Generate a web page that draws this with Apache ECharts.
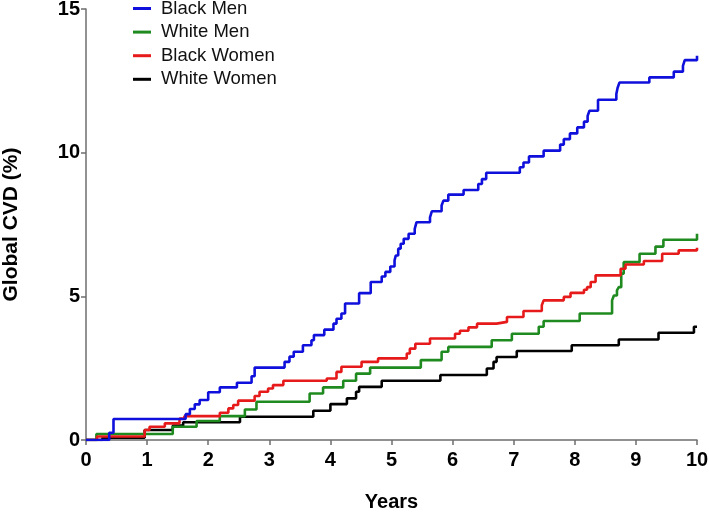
<!DOCTYPE html>
<html>
<head>
<meta charset="utf-8">
<script src="https://cdn.jsdelivr.net/npm/echarts@6/dist/echarts.min.js"></script>
<style>
html,body{margin:0;padding:0;background:#fff;}
#chart{width:709px;height:512px;}
</style>
</head>
<body>
<div id="chart"></div>
<script>
// Series names (legend order)
var seriesNames = ['Black Men', 'White Men', 'Black Women', 'White Women'];

// Black Men: event times (years) and cumulative incidence (%) from that time on
var blackMenT = [0, 0.38, 0.45, 1.63, 1.70, 1.78, 1.86, 2.00, 2.19, 2.47, 2.71, 2.76, 3.25, 3.33, 3.40, 3.55, 3.69, 3.73, 3.90, 4.05, 4.10, 4.18, 4.24, 4.47, 4.66, 4.84, 4.90, 4.98, 5.05, 5.07, 5.11, 5.15, 5.20, 5.28, 5.38, 5.41, 5.63, 5.66, 5.82, 5.85, 5.93, 6.18, 6.42, 6.48, 6.55, 7.10, 7.16, 7.25, 7.49, 7.76, 7.82, 7.92, 8.04, 8.15, 8.21, 8.24, 8.38, 8.68, 8.70, 8.73, 9.22, 9.62, 9.77, 9.80, 10.0];
var blackMenV = [0, 0.25, 0.73, 0.90, 1.08, 1.24, 1.39, 1.66, 1.83, 1.99, 2.22, 2.52, 2.72, 2.90, 3.07, 3.30, 3.47, 3.65, 3.84, 4.05, 4.22, 4.40, 4.75, 5.11, 5.50, 5.69, 5.85, 6.04, 6.25, 6.42, 6.66, 6.83, 7.00, 7.18, 7.35, 7.58, 7.75, 7.96, 8.16, 8.33, 8.54, 8.70, 8.91, 9.08, 9.30, 9.49, 9.66, 9.87, 10.07, 10.28, 10.47, 10.67, 10.88, 11.08, 11.28, 11.46, 11.84, 12.04, 12.25, 12.44, 12.62, 12.82, 13.02, 13.22, 13.37];

// White Men
var whiteMenT = [0, 0.17, 1.42, 1.81, 2.19, 2.60, 2.79, 3.66, 3.88, 4.21, 4.42, 4.65, 5.48, 5.82, 5.93, 6.64, 6.97, 7.41, 7.49, 8.08, 8.61, 8.64, 8.69, 8.72, 8.76, 8.80, 9.06, 9.32, 9.45, 10.0];
var whiteMenV = [0, 0.21, 0.46, 0.66, 0.83, 1.06, 1.33, 1.62, 1.83, 2.06, 2.31, 2.52, 2.78, 3.07, 3.24, 3.47, 3.70, 3.94, 4.14, 4.40, 4.86, 5.03, 5.21, 5.32, 5.79, 6.19, 6.48, 6.73, 6.97, 7.18];

// Black Women
var blackWomenT = [0, 0.18, 0.96, 1.04, 1.29, 1.53, 1.61, 2.19, 2.33, 2.41, 2.49, 2.76, 2.84, 2.98, 3.06, 3.23, 3.94, 4.10, 4.18, 4.51, 4.78, 5.25, 5.30, 5.39, 5.63, 6.04, 6.12, 6.26, 6.40, 6.72, 6.89, 7.16, 7.46, 7.49, 7.82, 7.93, 8.15, 8.20, 8.26, 8.34, 8.75, 8.83, 9.13, 9.43, 9.70, 10.0];
var blackWomenV = [0, 0.12, 0.35, 0.46, 0.58, 0.75, 0.83, 0.95, 1.10, 1.22, 1.37, 1.53, 1.68, 1.79, 1.91, 2.06, 2.14, 2.37, 2.55, 2.72, 2.84, 3.01, 3.18, 3.35, 3.53, 3.70, 3.80, 3.92, 4.05, 4.11, 4.28, 4.49, 4.69, 4.86, 4.98, 5.12, 5.23, 5.32, 5.50, 5.73, 5.96, 6.11, 6.23, 6.48, 6.60, 6.69];

// White Women
var whiteWomenT = [0, 0.27, 0.96, 1.42, 1.59, 2.52, 3.72, 4.00, 4.27, 4.42, 4.47, 4.84, 5.80, 6.56, 6.67, 6.72, 7.05, 7.95, 8.72, 9.37, 9.95, 10.0];
var whiteWomenV = [0, 0.08, 0.35, 0.50, 0.62, 0.81, 1.02, 1.25, 1.45, 1.68, 1.85, 2.06, 2.26, 2.49, 2.72, 2.89, 3.10, 3.30, 3.50, 3.73, 3.94, 3.94];

// Axis ticks
var xTicks = [0, 1, 2, 3, 4, 5, 6, 7, 8, 9, 10];
var yTicks = [0, 5, 10, 15];

function pairs(t, v) {
  var out = [];
  for (var i = 0; i < t.length; i++) out.push([t[i], v[i]]);
  return out;
}

var colors = {
  'Black Men': '#1010dc',
  'White Men': '#1f8a1f',
  'Black Women': '#e61a1a',
  'White Women': '#000000'
};
var dataMap = {
  'Black Men': pairs(blackMenT, blackMenV),
  'White Men': pairs(whiteMenT, whiteMenV),
  'Black Women': pairs(blackWomenT, blackWomenV),
  'White Women': pairs(whiteWomenT, whiteWomenV)
};
var drawOrder = ['White Women', 'White Men', 'Black Women', 'Black Men'];

var font = 'Liberation Sans, Arial, sans-serif';

var chart = echarts.init(document.getElementById('chart'), null, {renderer: 'canvas'});
chart.setOption({
  animation: false,
  backgroundColor: '#ffffff',
  grid: {left: 86, right: 12, top: 9, bottom: 72, containLabel: false, outerBoundsMode: 'none'},
  legend: {
    orient: 'vertical',
    left: 133,
    top: -1,
    padding: 0,
    itemGap: 4.6,
    itemWidth: 18,
    itemHeight: 3,
    icon: 'rect',
    data: seriesNames,
    textStyle: {fontFamily: font, fontSize: 18.5, lineHeight: 18, color: '#111', padding: [0, 0, 0, 5]}
  },
  xAxis: {
    type: 'value',
    min: xTicks[0],
    max: xTicks[xTicks.length - 1],
    interval: 1,
    name: 'Years',
    nameLocation: 'middle',
    nameGap: 52,
    nameTextStyle: {fontFamily: font, fontWeight: 'bold', fontSize: 20, color: '#000'},
    axisLine: {show: true, lineStyle: {color: '#6e6e6e', width: 1.5}},
    axisTick: {show: true, length: 5, lineStyle: {color: '#6e6e6e', width: 1.5}},
    axisLabel: {fontFamily: font, fontWeight: 'bold', fontSize: 20, color: '#000', margin: 10},
    splitLine: {show: false}
  },
  yAxis: {
    type: 'value',
    min: yTicks[0],
    max: yTicks[yTicks.length - 1],
    interval: 5,
    name: 'Global CVD (%)',
    nameLocation: 'middle',
    nameGap: 64,
    nameTextStyle: {fontFamily: font, fontWeight: 'bold', fontSize: 21, color: '#000'},
    axisLine: {show: true, lineStyle: {color: '#6e6e6e', width: 1.5}},
    axisTick: {show: true, length: 5, lineStyle: {color: '#6e6e6e', width: 1.5}},
    axisLabel: {fontFamily: font, fontWeight: 'bold', fontSize: 20, color: '#000', margin: 6},
    splitLine: {show: false}
  },
  series: drawOrder.map(function (name) {
    return {
      name: name,
      type: 'line',
      step: 'end',
      data: dataMap[name],
      showSymbol: false,
      symbol: 'none',
      lineStyle: {color: colors[name], width: 2.6},
      itemStyle: {color: colors[name]},
      z: 2
    };
  })
});
</script>
</body>
</html>
